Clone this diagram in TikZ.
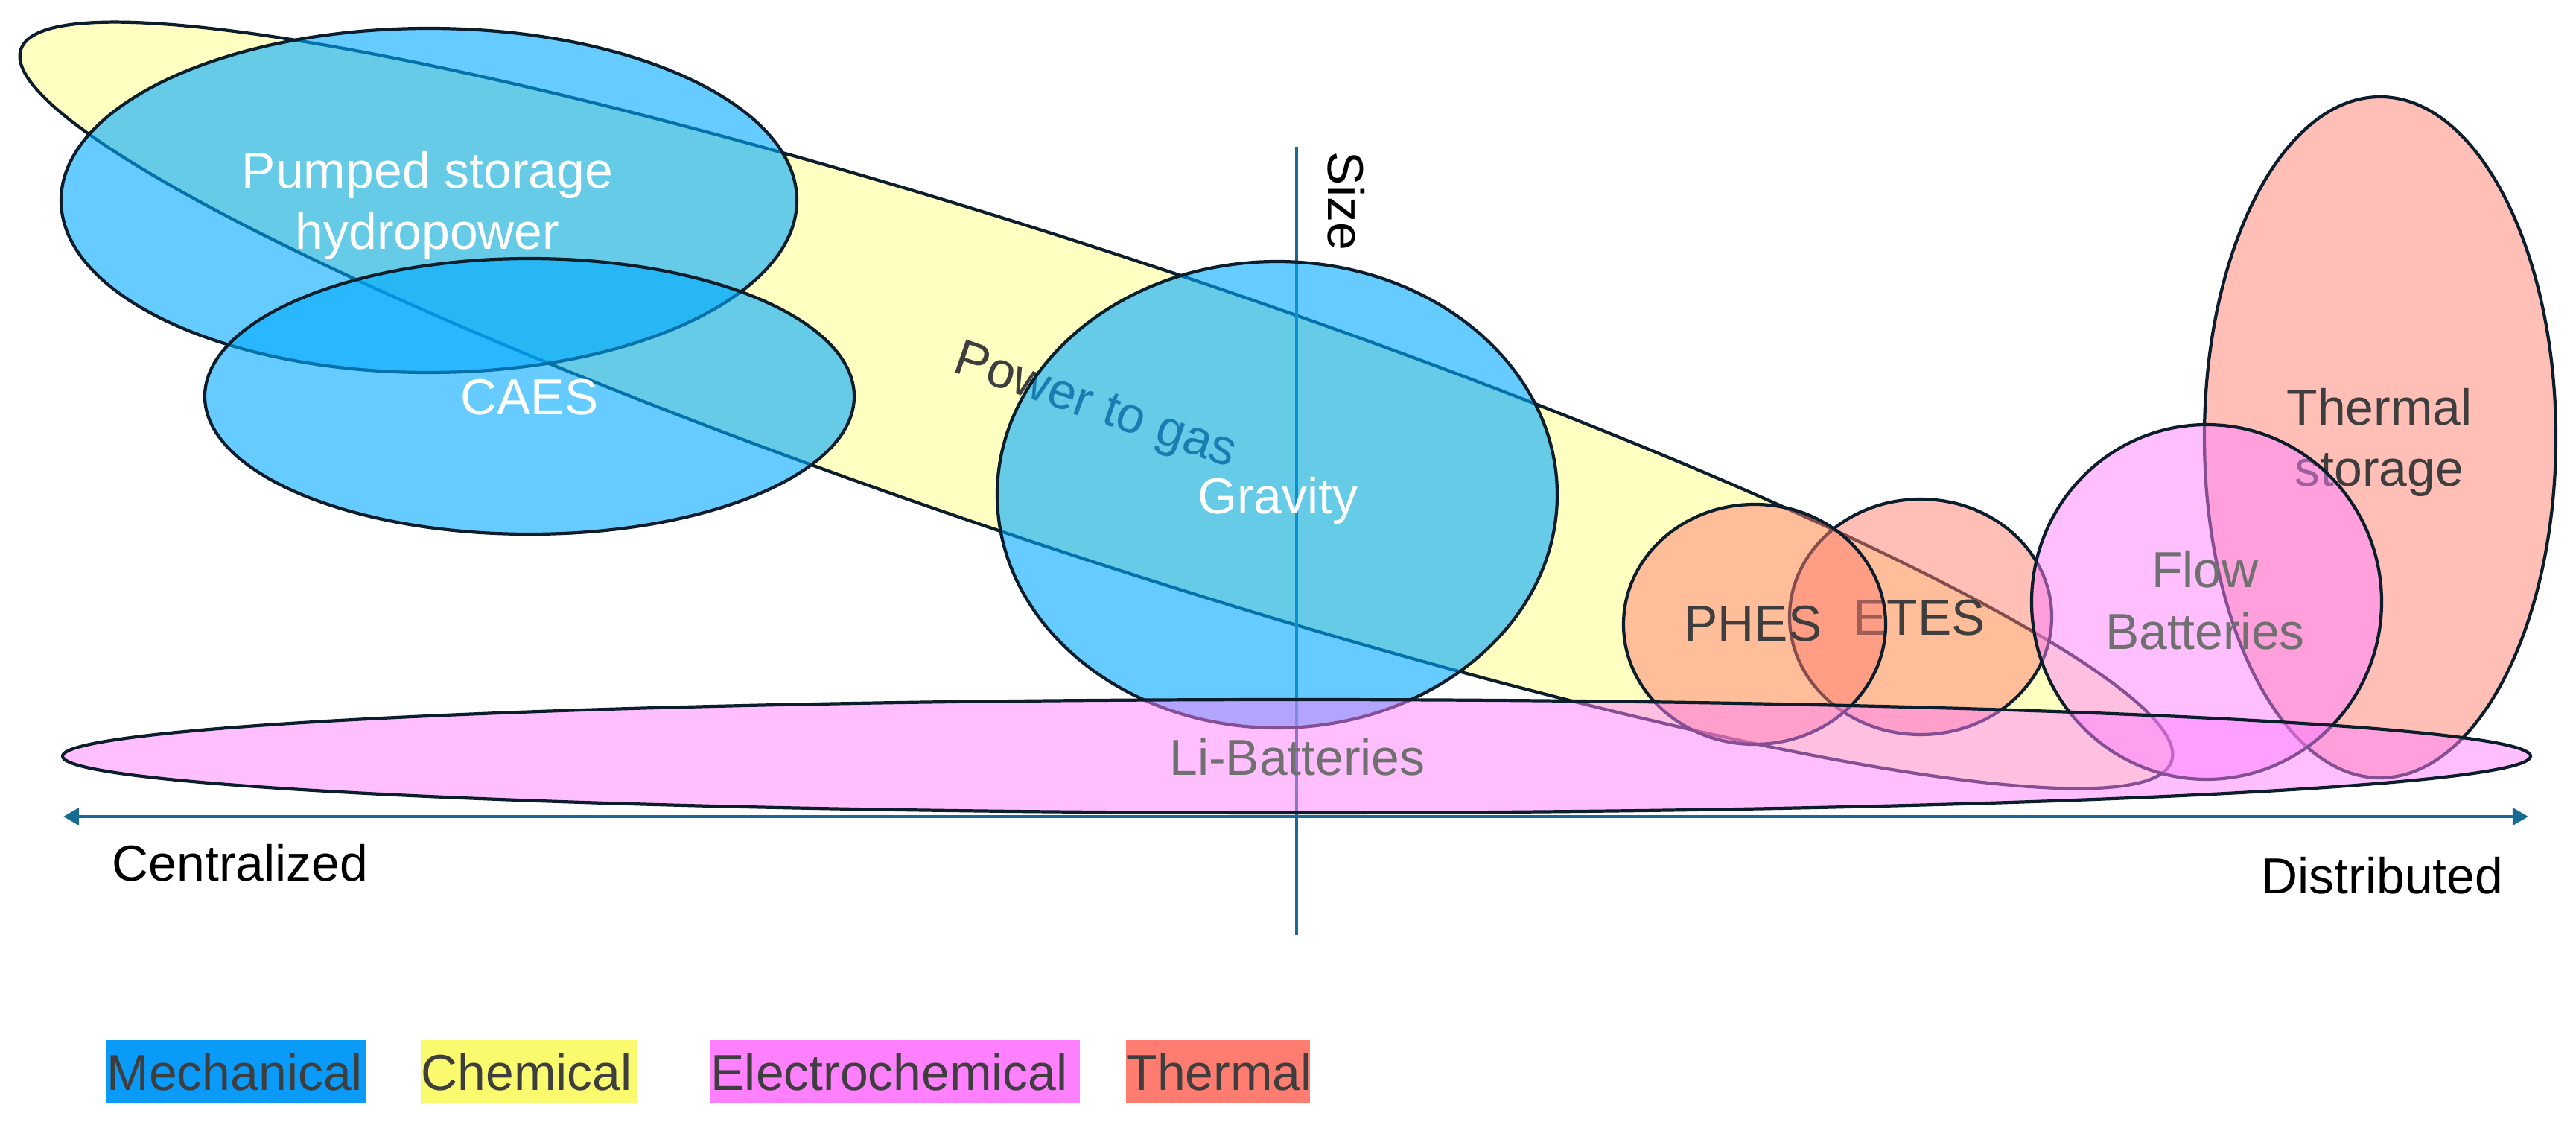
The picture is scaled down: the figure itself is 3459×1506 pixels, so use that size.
\documentclass[tikz,border=0pt]{standalone}
\usepackage{fontspec}
\setmainfont{Liberation Sans}
\usetikzlibrary{arrows.meta}
\definecolor{mech}{RGB}{0,170,255}
\definecolor{chem}{RGB}{255,255,102}
\definecolor{elec}{RGB}{255,128,255}
\definecolor{therm}{RGB}{255,127,112}
\definecolor{outl}{RGB}{12,30,44}
\definecolor{axiscol}{RGB}{24,108,148}
\definecolor{txt}{RGB}{62,62,62}
\definecolor{gtxt}{RGB}{112,112,112}
\definecolor{legmech}{RGB}{10,155,248}
\definecolor{legchem}{RGB}{250,250,110}
\definecolor{legelec}{RGB}{255,128,255}
\definecolor{legtherm}{RGB}{255,125,112}
\begin{document}
\begin{tikzpicture}[x=0.01cm,y=0.01cm,
  blob/.style={draw=outl, line width=1.2pt},
  mechf/.style={blob, fill=mech, fill opacity=0.6},
  chemf/.style={blob, fill=chem, fill opacity=0.4},
  elecf/.style={blob, fill=elec, fill opacity=0.5},
  thermf/.style={blob, fill=therm, fill opacity=0.5},
  lbl/.style={font=\fontsize{19.3}{23.5}\selectfont, inner sep=0pt, align=center},
  axisline/.style={draw=axiscol, line width=1.3pt},
]
\useasboundingbox (0,0) rectangle (3459,-1506);

% Power to gas (chemical)
\path[chemf, rotate around={-18.3:(1472,-544)}] (1472,-544) ellipse [x radius=1521, y radius=201];
\node[lbl, text=txt, rotate=-19] (p2g) at (1470,-548) {Power to gas};

% vertical axis
\coordinate (vtop) at (1741,-197);
\coordinate (vbot) at (1741,-1255);
\draw[axisline] (vtop) -- (vbot);
\node[lbl, text=black, rotate=-90] (size) at (1808,-270) {Size};

% Pumped storage
\path[mechf] (576,-269) ellipse [x radius=494, y radius=231];
\node[lbl, text=white] (pumped) at (574,-276) {Pumped storage\\hydropower};

% CAES
\path[mechf] (711,-532) ellipse [x radius=436, y radius=185];
\node[lbl, text=white] (caes) at (711,-533) {CAES};

% Gravity
\path[mechf] (1715,-664) ellipse [x radius=376, y radius=313];
\node[lbl, text=white] (gravity) at (1716,-672) {Gravity};

% Thermal storage
\path[thermf] (3196,-587) ellipse [x radius=236, y radius=457];
\node[lbl, text=txt] (thermal) at (3195,-594) {Thermal\\storage};

% ETES
\path[thermf] (2579,-828) ellipse [x radius=176, y radius=158];
\node[lbl, text=txt] (etes) at (2577,-829) {ETES};

% PHES
\path[thermf] (2356,-838) ellipse [x radius=176, y radius=161];
\node[lbl, text=txt] (phes) at (2354,-837) {PHES};

% Flow batteries
\path[elecf] (2963,-808) ellipse [x radius=235, y radius=238];
\node[lbl, text=gtxt] (flow) at (2961,-806) {Flow\\Batteries};

% Li-Batteries
\path[elecf] (1741,-1015) ellipse [x radius=1657, y radius=76];
\node[lbl, text=gtxt] (li) at (1742,-1016) {Li-Batteries};

% horizontal axis
\coordinate (hl) at (85,-1096);
\coordinate (hr) at (3395,-1096);
\draw[axisline, {Triangle[length=6pt,width=6.5pt]}-{Triangle[length=6pt,width=6.5pt]}] (hl) -- (hr);
\node[lbl, text=black, anchor=west] (central) at (150,-1158) {Centralized};
\node[lbl, text=black, anchor=east] (distrib) at (3362,-1175) {Distributed};

% legend
\fill[legmech] (143,-1396) rectangle (492,-1480);
\fill[legchem] (565,-1396) rectangle (856,-1480);
\fill[legelec] (954,-1396) rectangle (1450,-1480);
\fill[legtherm] (1512,-1396) rectangle (1759,-1480);
\node[lbl, text=txt, anchor=west] (lmech) at (143,-1439) {Mechanical};
\node[lbl, text=txt, anchor=west] (lchem) at (565,-1439) {Chemical};
\node[lbl, text=txt, anchor=west] (lelec) at (954,-1439) {Electrochemical};
\node[lbl, text=txt, anchor=west] (ltherm) at (1512,-1439) {Thermal};
\end{tikzpicture}
\end{document}
